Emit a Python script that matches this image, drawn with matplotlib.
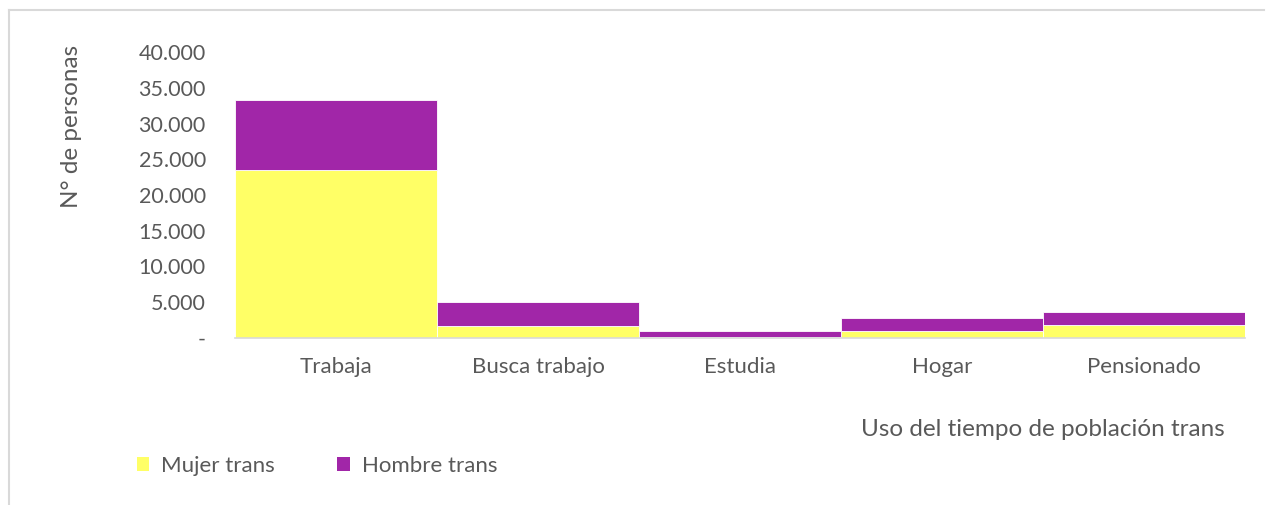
import matplotlib.pyplot as plt
from matplotlib.lines import Line2D
from matplotlib.patches import Patch

plt.rcParams['font.family'] = ['Lato', 'DejaVu Sans']

# --- data ---
categorias = ["Trabaja", "Busca trabajo", "Estudia", "Hogar", "Pensionado"]
mujer_trans = [23500, 1700, 80, 1000, 1800]
hombre_trans = [9800, 3350, 950, 1800, 1850]
yticks = list(range(0, 40001, 5000))

AMARILLO = "#FFFF66"
MORADO = "#A126A8"
GRIS = "#595959"

fig = plt.figure(figsize=(12.66, 5.05), dpi=100)
W, H = 1266, 505
ax = fig.add_axes([235 / W, (H - 338) / H, (1245 - 235) / W, (338 - 52) / H])

x = range(len(categorias))
ax.bar(x, mujer_trans, width=1.0, color=AMARILLO, edgecolor="white", linewidth=0.6)
ax.bar(x, hombre_trans, bottom=mujer_trans, width=1.0, color=MORADO,
       edgecolor="white", linewidth=0.6)

ax.set_xlim(-0.5, len(categorias) - 0.5)
ax.set_ylim(0, 40000)
ax.set_yticks(yticks)
ax.set_yticklabels(["-"] + [f"{v:,}".replace(",", ".") for v in yticks[1:]])
ax.set_xticks(list(x))
ax.set_xticklabels(categorias)
ax.tick_params(axis="both", length=0, colors=GRIS)
ax.tick_params(axis="x", pad=14, labelsize=16)
ax.tick_params(axis="y", pad=21, labelsize=15.5)

for s in ["top", "right", "left"]:
    ax.spines[s].set_visible(False)
ax.spines["bottom"].set_color("#D9D9D9")
ax.spines["bottom"].set_linewidth(1.2)

fig.text(71 / W, 1 - 126 / H, "N° de personas", rotation=90, ha="center",
         va="center", fontsize=17.5, color=GRIS)
fig.text(1225 / W, 1 - 429 / H, "Uso del tiempo de población trans", ha="right",
         va="center", fontsize=17.5, color=GRIS)

handles = [Patch(facecolor=AMARILLO, label="Mujer trans"),
           Patch(facecolor=MORADO, label="Hombre trans")]
fig.legend(handles=handles, loc="center left", bbox_to_anchor=(117 / W, 1 - 466 / H),
           ncol=2, frameon=False, fontsize=16, labelcolor=GRIS, handlelength=0.55,
           handleheight=0.55, handletextpad=0.55, columnspacing=2.8)

# chart area border (light gray)
fig.add_artist(Line2D([8.5 / W, 8.5 / W], [0, 1 - 10 / H], color="#D9D9D9", lw=1.5))
fig.add_artist(Line2D([8.5 / W, 1264 / W], [1 - 10 / H, 1 - 10 / H], color="#D9D9D9", lw=1.5))

fig.savefig("out.png", dpi=100)
